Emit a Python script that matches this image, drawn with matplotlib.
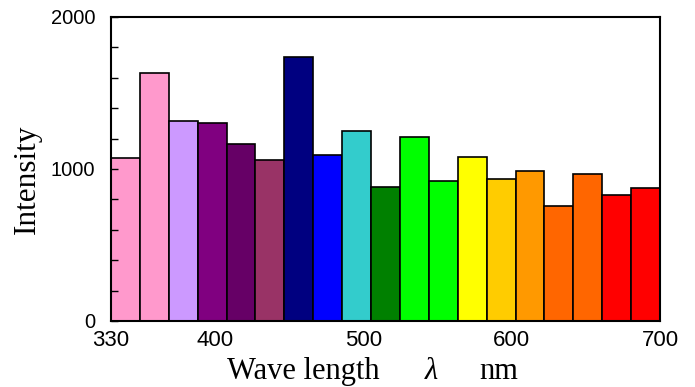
import numpy as np
import matplotlib
matplotlib.use("Agg")
import matplotlib.pyplot as plt
from matplotlib.ticker import MultipleLocator

# intensity per wavelength band, 330-700 nm
intensity = [1073, 1629, 1318, 1305, 1166, 1060, 1735, 1093, 1252, 881,
             1212, 921, 1079, 934, 987, 755, 967, 828, 874]
colors = ["#FF99CC", "#FF99CC", "#CC99FF", "#800080", "#660066", "#993366",
          "#000080", "#0000FF", "#33CCCC", "#008000", "#00FF00", "#00FF00",
          "#FFFF00", "#FFCC00", "#FF9900", "#FF6600", "#FF6600", "#FF0000",
          "#FF0000"]
x_ticks = [330, 400, 500, 600, 700]
y_ticks = [0, 1000, 2000]

W, H = 695, 387
edges = np.linspace(330, 700, len(intensity) + 1)
widths = np.diff(edges)

fig = plt.figure(figsize=(W / 100, H / 100), dpi=100)
ax = fig.add_axes([111 / W, 1 - 321 / H, 549 / W, 304 / H])
ax.bar(edges[:-1], intensity, width=widths, align="edge", color=colors,
       edgecolor="black", linewidth=1.2)

ax.set_xlim(330, 700)
ax.set_ylim(0, 2000)
ax.set_xticks(x_ticks)
ax.set_yticks(y_ticks)
ax.yaxis.set_minor_locator(MultipleLocator(200))
ax.tick_params(axis="x", length=0, pad=6.5)
ax.tick_params(axis="y", which="both", direction="in", length=5, width=1, pad=11.5)
for lab in ax.get_xticklabels():
    lab.set_fontfamily("Liberation Sans")
    lab.set_fontsize(16)
for lab in ax.get_yticklabels():
    lab.set_fontfamily("Liberation Sans")
    lab.set_fontsize(14.5)

for s in ax.spines.values():
    s.set_linewidth(1.5)

serif = "Liberation Serif"
fig.text(27 / W, 1 - 179 / H, "Intensity", family=serif, fontsize=22.5,
         rotation=90, ha="center", va="center")
base = 1 - 379 / H
fig.text(303 / W, base, "Wave length", family=serif, fontsize=22,
         ha="center", va="baseline")
fig.text(431 / W, base, "λ", family=serif, style="italic", fontsize=22,
         ha="center", va="baseline")
fig.text(499 / W, base, "nm", family=serif, fontsize=22,
         ha="center", va="baseline")

fig.savefig("out.png", dpi=100)
